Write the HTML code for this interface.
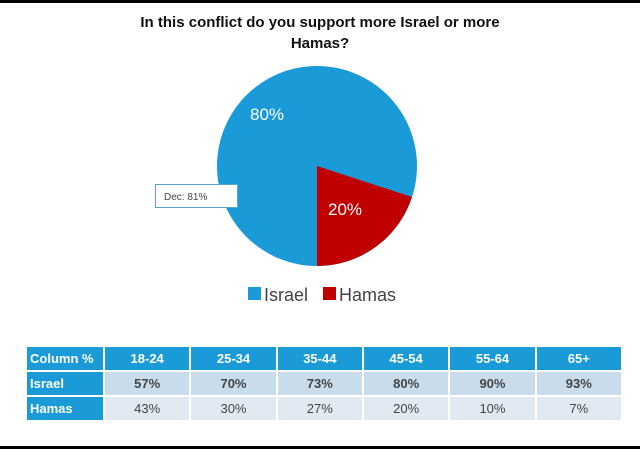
<!DOCTYPE html>
<html><head><style>
body{margin:0;width:640px;height:449px;background:#fff;position:relative;overflow:hidden;font-family:"Liberation Sans",sans-serif}
.t{position:absolute;left:0;width:640px;text-align:center;font-weight:bold;font-size:15px;color:#111}
table{position:absolute;left:25px;top:345px;border-collapse:separate;border-spacing:2px 2px;width:598px;font-size:13px;table-layout:fixed}
td{height:23px;text-align:center;color:#444;font-weight:bold;padding:0}
tr.h td{background:#1a9bd8;color:#fff}
td.f{background:#1a9bd8;color:#fff;text-align:left;padding-left:3px}
tr.i td{background:#c9dcec}
tr.m td{background:#e1eaf3;font-weight:normal}
tr.i td.f,tr.m td.f{background:#1a9bd8;font-weight:bold}
</style></head><body>
<div style="position:absolute;left:0;top:0;width:640px;height:3px;background:#000"></div>
<div style="position:absolute;left:0;top:446px;width:640px;height:3px;background:#000"></div>
<div class="t" style="top:14px">In this conflict do you support more Israel or more</div>
<div class="t" style="top:35px">Hamas?</div>
<svg style="position:absolute;left:0;top:0" width="640" height="449">
<circle cx="317" cy="166" r="100" fill="#1a9bd8"/>
<path d="M317 166 L317 266 A100 100 0 0 0 412 197 Z" fill="#c00000"/>
<text x="267" y="120" fill="#fff" font-size="17" text-anchor="middle" font-family="Liberation Sans">80%</text>
<text x="345" y="215" fill="#fff" font-size="17" text-anchor="middle" font-family="Liberation Sans">20%</text>
<rect x="155.5" y="184.5" width="82" height="23" fill="#fff" stroke="#5aa7d0"/>
<text x="164" y="200" fill="#444" font-size="10" font-family="Liberation Sans">Dec: 81%</text>
<rect x="248" y="287" width="13" height="13" fill="#1a9bd8"/>
<text x="264" y="301" fill="#444" font-size="18" font-family="Liberation Sans">Israel</text>
<rect x="323" y="287" width="13" height="13" fill="#c00000"/>
<text x="339" y="301" fill="#444" font-size="18" font-family="Liberation Sans">Hamas</text>
</svg>
<table>
<colgroup><col style="width:76px"><col><col><col><col><col><col></colgroup>
<tr class="h"><td class="f">Column %</td><td>18-24</td><td>25-34</td><td>35-44</td><td>45-54</td><td>55-64</td><td>65+</td></tr>
<tr class="i"><td class="f">Israel</td><td>57%</td><td>70%</td><td>73%</td><td>80%</td><td>90%</td><td>93%</td></tr>
<tr class="m"><td class="f">Hamas</td><td>43%</td><td>30%</td><td>27%</td><td>20%</td><td>10%</td><td>7%</td></tr>
</table>
</body></html>
